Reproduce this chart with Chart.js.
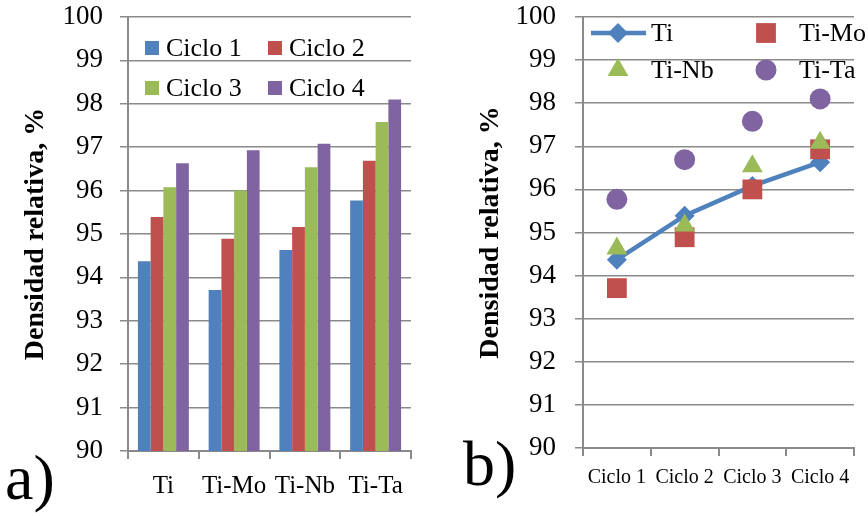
<!DOCTYPE html>
<html>
<head>
<meta charset="utf-8">
<script src="https://cdn.jsdelivr.net/npm/chart.js@4.4.1/dist/chart.umd.min.js"></script>
<style>
  body { margin: 0; background: #fff; }
  #wrap { position: relative; width: 868px; height: 516px; overflow: hidden; }
  canvas { position: absolute; top: 0; }
  #chart-a { left: 0; }
  #chart-b { left: 434px; }
  .panel { position: absolute; font-family: "Liberation Serif", serif; font-size: 64px; line-height: 1; color: #000; }
</style>
</head>
<body>
<div id="wrap">
  <canvas id="chart-a" width="434" height="516"></canvas>
  <canvas id="chart-b" width="434" height="516"></canvas>
  <div class="panel" style="left:5px; top:446px">a)</div>
  <div class="panel" style="left:463px; top:432px">b)</div>
</div>
<script>
// Densidad relativa (%) por aleación y ciclo
const aleaciones = ['Ti', 'Ti-Mo', 'Ti-Nb', 'Ti-Ta'];
const ciclos = ['Ciclo 1', 'Ciclo 2', 'Ciclo 3', 'Ciclo 4'];
const densTi   = [94.37, 95.39, 96.08, 96.63];
const densTiMo = [93.71, 94.89, 96.00, 96.93];
const densTiNb = [94.63, 95.16, 96.54, 97.08];
const densTiTa = [95.77, 96.69, 97.58, 98.10];
const yTicks = [90, 91, 92, 93, 94, 95, 96, 97, 98, 99, 100];

const colores = ['#4F81BD', '#C0504D', '#9BBB59', '#8064A2'];
const gris = '#8a8a8a';
const serif = '"Liberation Serif", serif';

// legend drawn inside the plot area, two columns
const legendBox = {
  id: 'legendBox',
  afterDatasetsDraw(chart, args, opts) {
    const {ctx, chartArea} = chart;
    ctx.save();
    ctx.font = opts.font;
    ctx.textBaseline = 'middle';
    chart.data.datasets.forEach((ds, i) => {
      const x = chartArea.left + opts.xs[i % 2];
      const y = chartArea.top + opts.ys[Math.floor(i / 2)];
      ctx.fillStyle = ds.backgroundColor;
      ctx.strokeStyle = ds.borderColor;
      if (opts.kind === 'box') {
        ctx.fillRect(x, y - 7, 14, 14);
      } else {
        if (ds.showLine !== false) {
          ctx.lineWidth = ds.borderWidth;
          ctx.beginPath();
          ctx.moveTo(x - 27, y);
          ctx.lineTo(x + 28, y);
          ctx.stroke();
        }
        drawMarker(ctx, ds.pointStyle, ds.pointRadius, x, y);
      }
      ctx.fillStyle = '#000';
      ctx.fillText(ds.label, x + opts.textGap, y + 1);
    });
    ctx.restore();
  }
};

function drawMarker(ctx, style, r, x, y) {
  ctx.beginPath();
  if (style === 'rectRot') {
    ctx.moveTo(x, y - r); ctx.lineTo(x + r, y); ctx.lineTo(x, y + r); ctx.lineTo(x - r, y);
  } else if (style === 'rect') {
    const s = r * Math.SQRT1_2;
    ctx.rect(x - s, y - s, 2 * s, 2 * s);
  } else if (style === 'triangle') {
    for (let k = 0; k < 3; k++) {
      const a = k * 2 * Math.PI / 3;
      const px = x + Math.sin(a) * r, py = y - Math.cos(a) * r;
      if (k === 0) ctx.moveTo(px, py); else ctx.lineTo(px, py);
    }
  } else {
    ctx.arc(x, y, r, 0, Math.PI * 2);
  }
  ctx.closePath();
  ctx.fill();
}

function yAxis(width, titlePad, labelPad) {
  return {
    min: 90, max: 100,
    afterBuildTicks: s => { s.ticks = yTicks.map(v => ({value: v})); },
    afterFit: s => { s.width = width; s.paddingTop = 0; s.paddingBottom = 0; },
    grid: {color: gris, lineWidth: 1.5, tickLength: 8},
    border: {color: gris, width: 2},
    ticks: {color: '#000', padding: labelPad, font: {family: serif, size: 27}},
    title: {
      display: true, text: 'Densidad relativa, %', color: '#000',
      font: {family: serif, size: 28, weight: 'bold'},
      padding: {top: titlePad, bottom: 0}
    }
  };
}

// a) barras por aleación
const porCiclo = [0, 1, 2, 3].map(k => [densTi[k], densTiMo[k], densTiNb[k], densTiTa[k]]);

new Chart(document.getElementById('chart-a'), {
  type: 'bar',
  data: {
    labels: aleaciones,
    datasets: ciclos.map((c, k) => ({
      label: c,
      data: porCiclo[k],
      backgroundColor: colores[k],
      borderColor: colores[k],
      barPercentage: 1,
      categoryPercentage: 0.72
    }))
  },
  options: {
    responsive: false,
    animation: false,
    devicePixelRatio: 1,
    layout: {padding: {top: 17, right: 23, left: 0, bottom: 0}},
    plugins: {
      legend: {display: false},
      tooltip: {enabled: false},
      legendBox: {kind: 'box', xs: [17, 140], ys: [31, 71], textGap: 21, font: '26px "Liberation Serif"'}
    },
    scales: {
      x: {
        grid: {offset: true, drawOnChartArea: false, tickLength: 8, color: gris, lineWidth: 2},
        border: {color: gris, width: 2},
        ticks: {color: '#000', padding: 12, font: {family: serif, size: 25}},
        afterFit: s => { s.height = 65; }
      },
      y: yAxis(128, 19, 17)
    }
  },
  plugins: [legendBox]
});

// b) evolución por ciclo
new Chart(document.getElementById('chart-b'), {
  type: 'line',
  data: {
    labels: ciclos,
    datasets: [
      {label: 'Ti', data: densTi, borderColor: colores[0], backgroundColor: colores[0],
       borderWidth: 4.5, pointStyle: 'rectRot', pointRadius: 10, pointBorderWidth: 0, order: 4},
      {label: 'Ti-Mo', data: densTiMo, showLine: false, borderColor: colores[1], backgroundColor: colores[1],
       pointStyle: 'rect', pointRadius: 14, pointBorderWidth: 0, order: 3},
      {label: 'Ti-Nb', data: densTiNb, showLine: false, borderColor: colores[2], backgroundColor: colores[2],
       pointStyle: 'triangle', pointRadius: 12, pointBorderWidth: 0, order: 2},
      {label: 'Ti-Ta', data: densTiTa, showLine: false, borderColor: colores[3], backgroundColor: colores[3],
       pointStyle: 'circle', pointRadius: 10.5, pointBorderWidth: 0, order: 1}
    ]
  },
  options: {
    responsive: false,
    animation: false,
    devicePixelRatio: 1,
    layout: {padding: {top: 17, right: 2, left: 0, bottom: 0}},
    plugins: {
      legend: {display: false},
      tooltip: {enabled: false},
      legendBox: {kind: 'point', xs: [35, 183], ys: [16, 53], textGap: 33, font: '26px "Liberation Serif"'}
    },
    scales: {
      x: {
        offset: true,
        grid: {offset: true, drawOnChartArea: false, tickLength: 8, color: gris, lineWidth: 2},
        border: {color: gris, width: 2},
        ticks: {color: '#000', padding: 10, font: {family: serif, size: 20}},
        afterFit: s => { s.height = 68; }
      },
      y: yAxis(149, 40, 19)
    }
  },
  plugins: [legendBox]
});
</script>
</body>
</html>
